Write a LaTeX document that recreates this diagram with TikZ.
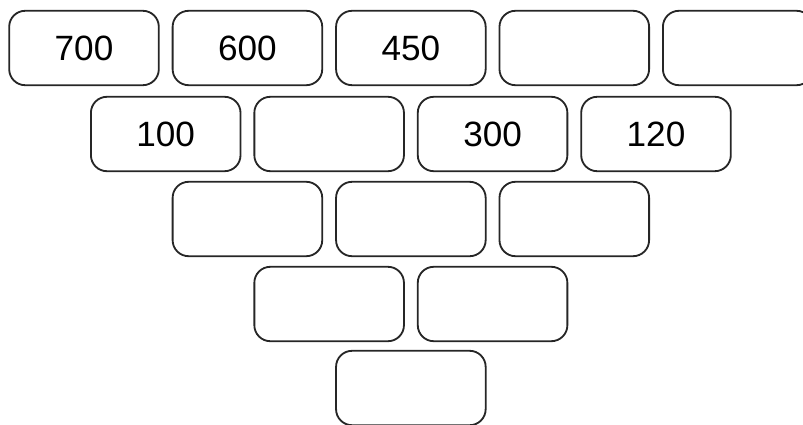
\documentclass[tikz,border=0pt]{standalone}
\usepackage{fontspec}
\setmainfont{Liberation Sans}
\usetikzlibrary{positioning, calc}

\begin{document}
\begin{tikzpicture}[
  node distance = 0.25cm and 0.3cm,
  cell/.style = {rectangle, rounded corners=0.4cm, draw=black!85, line width=1.3pt,
                 minimum width=3.74cm, minimum height=1.86cm, inner sep=0pt,
                 font=\fontsize{25}{29}\selectfont}
]
  \useasboundingbox (0,0) rectangle (20.075,-10.6);
  % top row
  \node[cell] (r1c1) at (2.1,-1.2) {700};
  \node[cell, right=of r1c1] (r1c2) {600};
  \node[cell, right=of r1c2] (r1c3) {450};
  \node[cell, right=of r1c3] (r1c4) {};
  \node[cell, right=of r1c4] (r1c5) {};
  % second row
  \node[cell] (r2c1) at ($(r1c1)!0.5!(r1c2)+(0,-2.15)$) {100};
  \node[cell, right=of r2c1] (r2c2) {};
  \node[cell, right=of r2c2] (r2c3) {300};
  \node[cell, right=of r2c3] (r2c4) {120};
  % third row
  \node[cell] (r3c1) at ($(r2c1)!0.5!(r2c2)+(0,-2.125)$) {};
  \node[cell, right=of r3c1] (r3c2) {};
  \node[cell, right=of r3c2] (r3c3) {};
  % fourth row
  \node[cell] (r4c1) at ($(r3c1)!0.5!(r3c2)+(0,-2.125)$) {};
  \node[cell, right=of r4c1] (r4c2) {};
  % bottom
  \node[cell] (r5c1) at ($(r4c1)!0.5!(r4c2)+(0,-2.1)$) {};
\end{tikzpicture}
\end{document}
